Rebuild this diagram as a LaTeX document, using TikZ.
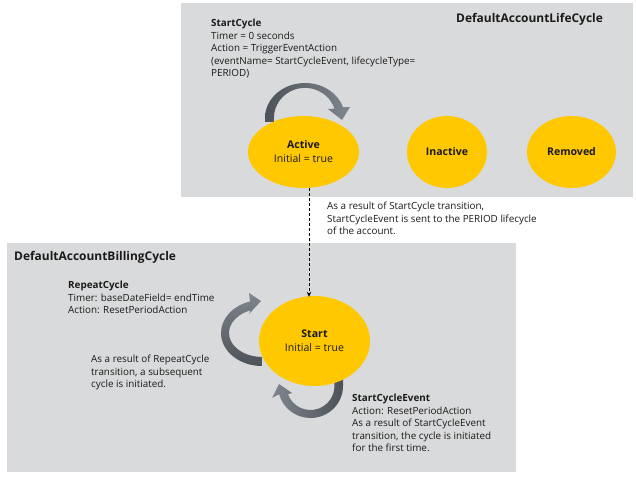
\documentclass[tikz,border=0pt]{standalone}
\usepackage{fontspec}
\setmainfont{Open Sans}
\usetikzlibrary{arrows.meta,shapes.geometric}
\definecolor{panelgray}{HTML}{D9DADB}
\definecolor{stateyellow}{HTML}{FFC800}
\definecolor{arrdark}{HTML}{4D5258}
\definecolor{arrlight}{HTML}{80868D}
\definecolor{txt}{HTML}{1A1A1A}
\begin{document}
\begin{tikzpicture}[x=1bp,y=-1bp,
  panelbox/.style={fill=panelgray,draw=none},
  statenode/.style={ellipse,fill=stateyellow,draw=none,inner sep=0pt,align=center,
    text=txt,font=\fontsize{10.6}{14}\selectfont},
  paneltitle/.style={inner sep=0pt,text=txt,font=\fontsize{12}{14}\selectfont\bfseries},
  infotext/.style={inner sep=0pt,text=txt,align=left,font=\fontsize{9.9}{12.6}\selectfont},
  dashconn/.style={draw=black,line width=0.8bp,dash pattern=on 3bp off 2bp,
    -{Stealth[length=5bp,width=4.5bp]}},
  cyclearrow/.style={draw=none}
]
\useasboundingbox (0,0) rectangle (636,480);
\fill[white] (0,0) rectangle (636,480);

% panels
\path[panelbox] (181,3) rectangle (633,197);
\path[panelbox] (7,243) rectangle (516,472);

% panel titles
\node[paneltitle,anchor=west] (lifetitle) at (456,19) {DefaultAccountLifeCycle};
\node[paneltitle,anchor=west] (billtitle) at (14,257) {DefaultAccountBillingCycle};

% cycle arrows (drawn beneath the states)
\shade[cyclearrow,left color=arrdark,right color=arrlight]
  (265,122) -- (265,118) arc[start angle=180,end angle=342,x radius=40,y radius=35]
  -- (350,107) -- (342,120) -- (328,109) -- (334.4,108.6)
  arc[start angle=342,end angle=180,x radius=31,y radius=30] -- (274,122) -- cycle;

\shade[cyclearrow,top color=arrlight,bottom color=arrdark]
  (262,366) arc[start angle=90,end angle=253,x radius=41,y radius=33]
  -- (249,293) -- (261,301) -- (249,314) -- (250.7,310.4)
  arc[start angle=250,end angle=90,x radius=33,y radius=24] -- cycle;

\shade[cyclearrow,left color=arrlight,right color=arrdark]
  (343,376) -- (343,386) arc[start angle=0,end angle=165,x radius=32.5,y radius=32]
  -- (272,398) -- (279,384) -- (292,393) -- (287.9,394.2)
  arc[start angle=160,end angle=0,x radius=24,y radius=24] -- (334.5,376) -- cycle;

% states
\node[statenode,minimum width=111bp,minimum height=72bp] (active) at (303.5,152)
  {\textbf{Active}\\Initial = true};
\node[statenode,minimum width=80bp,minimum height=72bp] (inactive) at (447,152)
  {\textbf{Inactive}};
\node[statenode,minimum width=89bp,minimum height=72bp] (removed) at (571.5,152)
  {\textbf{Removed}};
\node[statenode,minimum width=111bp,minimum height=90bp] (start) at (314.5,341)
  {\textbf{Start}\\Initial = true};

% connector between lifecycles
\coordinate (dashx) at (309,0);
\draw[dashconn] (active.south -| dashx) -- ([yshift=-1bp]start.north -| dashx);

% texts
\node[infotext,anchor=north west] (startcycletxt) at (211,18.8)
  {\textbf{StartCycle}\\Timer = 0 seconds\\Action = TriggerEventAction\\(eventName= StartCycleEvent, lifecycleType=\\PERIOD)};
\node[infotext,anchor=north west] (resulttxt) at (327,201.8)
  {As a result of StartCycle transition,\\StartCycleEvent is sent to the PERIOD lifecycle\\of the account.};
\node[infotext,anchor=north west] (repeattxt) at (68,280.8)
  {\textbf{RepeatCycle}\\Timer: baseDateField= endTime\\Action: ResetPeriodAction};
\node[infotext,anchor=north west] (repeatresult) at (91,354.8)
  {As a result of RepeatCycle\\transition, a subsequent\\cycle is initiated.};
\node[infotext,anchor=north west] (sceventtxt) at (352,393.8)
  {\textbf{StartCycleEvent}\\Action: ResetPeriodAction\\As a result of StartCycleEvent\\transition, the cycle is initiated\\for the first time.};
\end{tikzpicture}
\end{document}
